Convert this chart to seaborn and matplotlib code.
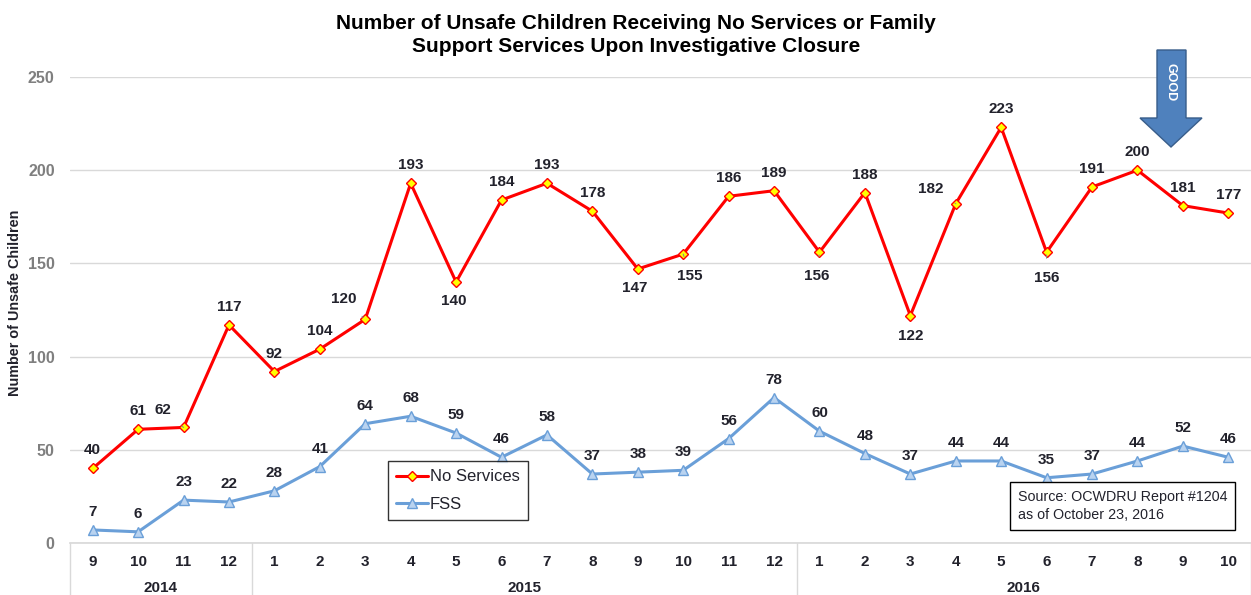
"""Unsafe children receiving no services / FSS at investigative closure, Sep 2014 - Oct 2016."""
import matplotlib

matplotlib.use("Agg")
import matplotlib.pyplot as plt
import pandas as pd
import seaborn as sns
from matplotlib.patches import Polygon
from matplotlib.transforms import blended_transform_factory

months = [9, 10, 11, 12,
          1, 2, 3, 4, 5, 6, 7, 8, 9, 10, 11, 12,
          1, 2, 3, 4, 5, 6, 7, 8, 9, 10]
years = ["2014"] * 4 + ["2015"] * 12 + ["2016"] * 10
no_services = [40, 61, 62, 117,
               92, 104, 120, 193, 140, 184, 193, 178, 147, 155, 186, 189,
               156, 188, 122, 182, 223, 156, 191, 200, 181, 177]
fss = [7, 6, 23, 22,
       28, 41, 64, 68, 59, 46, 58, 37, 38, 39, 56, 78,
       60, 48, 37, 44, 44, 35, 37, 44, 52, 46]

W, H = 1251, 595
RED = "#ff0000"
BLUE = "#6a9fd8"
TXT = "#22222c"

sns.set_theme(style="white")
plt.rcParams["font.family"] = ["Liberation Sans", "DejaVu Sans"]

df = pd.DataFrame({"idx": range(len(months)), "month": months, "year": years,
                   "No Services": no_services, "FSS": fss})

fig = plt.figure(figsize=(W / 100, H / 100), dpi=100)
ax = fig.add_axes([70 / W, 1 - 543 / H, (W - 70) / W, (543 - 77) / H])


def px2fig(x, y):
    return x / W, 1 - y / H


sns.lineplot(data=df, x="idx", y="No Services", ax=ax, color=RED, lw=2.2,
             marker="D", markersize=5, markerfacecolor="#ffff00",
             markeredgecolor=RED, markeredgewidth=1, label="No Services")
sns.lineplot(data=df, x="idx", y="FSS", ax=ax, color=BLUE, lw=2.2,
             marker="^", markersize=7, markerfacecolor="#b9d3f0",
             markeredgecolor=BLUE, markeredgewidth=1, label="FSS")

ax.set_xlim(-0.5, len(months) - 0.5)
ax.set_ylim(0, 250)
ax.set_yticks(range(0, 251, 50))
ax.set_xticks([])
ax.set_xlabel("")
ax.set_ylabel("")
ax.grid(axis="y", color="#d9d9d9", lw=1)
ax.tick_params(axis="y", length=0, pad=11, labelsize=11.5, labelcolor="#7f7f7f")
for lab in ax.get_yticklabels():
    lab.set_fontweight("bold")
for s in ["top", "right", "left"]:
    ax.spines[s].set_visible(False)
ax.spines["bottom"].set_color("#d9d9d9")

# data labels: default above the point, exceptions (below / leader line) in px
special = {2: (-21, 17, True), 6: (-21, 20, True), 8: (-2, -19, False),
           12: (-3, -19, False), 13: (7, -22, True), 16: (-3, -24, True),
           18: (0, -20, False), 19: (-25, 15, True), 21: (0, -26, True)}
for i, v in enumerate(no_services):
    dx, dy, leader = special.get(i, (0, 18, False))
    ax.annotate(str(v), (i, v), xytext=(dx * 0.72, dy * 0.72), textcoords="offset points",
                ha="center", va="center", fontsize=11, fontweight="bold", color=TXT,
                arrowprops=dict(arrowstyle="-", color="#8c8c8c", lw=0.8, shrinkA=7, shrinkB=2)
                if leader else None)
for i, v in enumerate(fss):
    ax.annotate(str(v), (i, v), xytext=(0, 18 * 0.72), textcoords="offset points",
                ha="center", va="center", fontsize=11, fontweight="bold", color=TXT)

# grouped category axis
trans = blended_transform_factory(ax.transData, ax.transAxes)
for i, m in enumerate(months):
    ax.text(i, -19 / 466, str(m), transform=trans, ha="center", va="center",
            fontsize=11, fontweight="bold", color=TXT)
bounds = [-0.5]
for yr in dict.fromkeys(years):
    idx = df.index[df["year"] == yr]
    ax.text((idx[0] + idx[-1]) / 2, -45 / 466, yr, transform=trans, ha="center",
            va="center", fontsize=11, fontweight="bold", color=TXT)
    bounds.append(idx[-1] + 0.5)
for b in bounds:
    ax.plot([b, b], [0, -52 / 466], transform=trans, color="#d9d9d9", lw=1, clip_on=False)

leg = ax.legend(loc="upper left", bbox_to_anchor=((388 - 70) / 1181, (543 - 461) / 466),
                fontsize=12, frameon=True, fancybox=False, edgecolor="black",
                handlelength=1.9, handletextpad=0.1, labelspacing=0.75, borderpad=0.5,
                borderaxespad=0)
leg.get_frame().set_linewidth(1)
for t in leg.get_texts():
    t.set_color(TXT)

fig.text(*px2fig(1018, 506), "Source: OCWDRU Report #1204\nas of October 23, 2016",
         fontsize=10.3, color=TXT, ha="left", va="center", linespacing=1.3,
         bbox=dict(boxstyle="square,pad=0.55", fc="white", ec="black", lw=1))

fig.text(*px2fig(636, 35), "Number of Unsafe Children Receiving No Services or Family\n"
         "Support Services Upon Investigative Closure", ha="center", va="center",
         fontsize=15, fontweight="bold", color="black", linespacing=1.3)
fig.text(*px2fig(15, 303), "Number of Unsafe Children", rotation=90, ha="center",
         va="center", fontsize=10.4, fontweight="bold", color=TXT)

# "GOOD" arrow
arrow_px = [(1157, 50), (1186, 50), (1186, 118), (1202, 118), (1171, 147),
            (1140, 118), (1157, 118)]
fig.add_artist(Polygon([px2fig(x, y) for x, y in arrow_px], closed=True,
                       transform=fig.transFigure, fc="#4f81bd", ec="#385d8a", lw=1))
fig.text(*px2fig(1171, 82), "GOOD", rotation=-90, ha="center", va="center",
         fontsize=9, fontweight="bold", color="white")

fig.savefig("out.png", dpi=100, facecolor="white")
